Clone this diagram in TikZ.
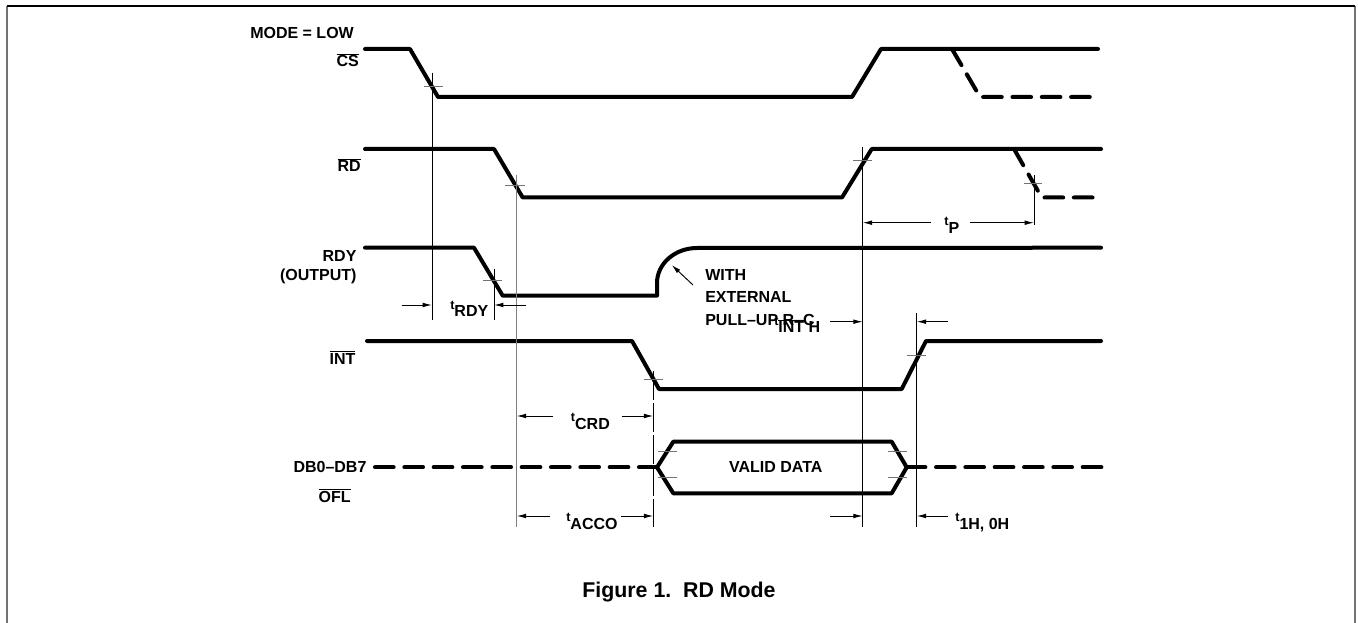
\documentclass[tikz,border=0pt]{standalone}
\usepackage{fontspec}
\setmainfont{Liberation Sans}
\usetikzlibrary{arrows.meta}
\newcommand{\ovl}[1]{$\overline{\mbox{#1}}$}
\newcommand{\tsub}[1]{\raisebox{5.5pt}{\fontsize{9.5}{9.5}\selectfont t}#1}

\begin{document}
\begin{tikzpicture}[x=0.75pt, y=-0.75pt,
    sig/.style={line width=3pt, line cap=round, line join=round},
    sigdash/.style={sig, dash pattern=on 14pt off 8pt},
    guide/.style={line width=0.7pt},
    grayguide/.style={line width=0.9pt, black!50},
    crossmark/.style={line width=0.7pt, black!55},
    dim/.style={line width=0.7pt, -{Latex[length=7pt, width=3.5pt]}},
    lbl/.style={font=\bfseries\fontsize{12}{14.25}\selectfont, inner sep=0pt}]

  \useasboundingbox (0,0) rectangle (1358,623);
  % frame
  \draw[line width=1.5pt, black!55] (7,6) -- (7,623);
  \draw[line width=1.5pt, black!55] (1355,6) -- (1355,623);
  \draw[line width=1.1pt] (7,6) -- (1355,6);

  % signal names
  \node[lbl, anchor=base west] (mode) at (250,39) {MODE = LOW};
  \node[lbl, anchor=base east] (cs) at (359,67) {\ovl{CS}};
  \node[lbl, anchor=base east] (rd) at (361,171.7) {\ovl{RD}};
  \node[lbl, anchor=north east, align=right] (rdy) at (356.7,250.7) {RDY\\(OUTPUT)};
  \node[lbl, anchor=base east] (int) at (355.7,364) {\ovl{INT}};
  \node[lbl, anchor=base east] (db) at (366.7,472) {DB0–DB7};
  \node[lbl, anchor=base east] (ofl) at (351,502.7) {\ovl{OFL}};

  % waveforms
  \draw[sig] (365,49) -- (410,49) -- (438,97) -- (852,97) -- (881,49) -- (1098,49);
  \draw[sigdash] (952,49) -- (980,97) -- (1096,97);
  \draw[sig] (365,149) -- (494,149) -- (522.7,197.5) -- (842,197.5) -- (871.7,149) -- (1101,149);
  \draw[sigdash] (1014,149) -- (1041.7,197.5) -- (1101,197.5);
  \draw[sig] (365,247.7) -- (474,247.7) -- (502.7,295.7) -- (657,295.7) -- (657,283)
    arc[start angle=180, end angle=270, x radius=40, y radius=35] -- (1101,247.7);
  \draw[sig] (367,341) -- (632,341) -- (659,389) -- (901.7,389) -- (926,341) -- (1101,341);
  \draw[sigdash] (375,467.3) -- (657,467.3);
  \draw[sig] (657,467.3) -- (673.3,441.7) -- (891.7,441.7) -- (906.7,467.3)
    -- (891.7,493.3) -- (673.3,493.3) -- cycle;
  \draw[sigdash] (906.7,467.3) -- (1101.7,467.3);
  \node[lbl] (valid) at (775.8,467.3) {VALID DATA};

  % reference lines
  \coordinate (gcs) at (432,73);
  \coordinate (grdf) at (516.7,175);
  \coordinate (grdy) at (494,269);
  \coordinate (gintf) at (653.3,371);
  \coordinate (grdr) at (862.7,147);
  \coordinate (grdp) at (1034,175);
  \coordinate (gintr) at (916.7,313);
  \draw[guide] (gcs) -- (gcs |- 0,320);
  \draw[grayguide] (grdf) -- (grdf |- 0,527);
  \draw[guide] (grdy) -- (grdy |- 0,320);
  \draw[guide, dash pattern=on 22pt off 2pt] (gintf) -- (gintf |- 0,527);
  \draw[guide] (grdr) -- (grdr |- 0,527);
  \draw[guide] (grdp) -- (grdp |- 0,225);
  \draw[guide] (gintr) -- (gintr |- 0,527);

  % crossing marks
  \draw[crossmark] (424,86.7) -- (443,86.7);
  \draw[crossmark] (505,185) -- (525,185);
  \draw[crossmark] (853,160.7) -- (872,160.7);
  \draw[crossmark] (1024,183) -- (1042,183);
  \draw[crossmark] (483,280) -- (502,280);
  \draw[crossmark] (644,379) -- (663,379);
  \draw[crossmark] (907,355.7) -- (926,355.7);
  \draw[crossmark] (658,451.7) -- (677,451.7);
  \draw[crossmark] (658,477.3) -- (677,477.3);
  \draw[crossmark] (888,451.7) -- (907,451.7);
  \draw[crossmark] (888,477.3) -- (907,477.3);

  % timing parameters
  \draw[dim] (401.7,305) -- (gcs |- 0,305);
  \draw[dim] (526,305) -- (grdy |- 0,305);
  \node[lbl, anchor=base west] (trdy) at (450,316.7) {\tsub{RDY}};

  \draw[dim] (931,222.7) -- (grdr |- 0,222.7);
  \draw[dim] (970,222.7) -- (grdp |- 0,222.7);
  \node[lbl, anchor=base west] (tp) at (944,233.3) {\tsub{P}};

  \draw[dim] (693,285) -- (671.7,265);
  \node[lbl, anchor=north west, align=left, font=\bfseries\fontsize{12}{16.9}\selectfont] (pullup) at (705,269) {WITH\\EXTERNAL\\PULL–UP R–C};

  \draw[dim] (830,321.7) -- (grdr |- 0,321.7);
  \draw[dim] (948,321.7) -- (gintr |- 0,321.7);
  \node[lbl, anchor=base west] (tinth) at (774,332.7) {\tsub{\ovl{INT} H}};

  \draw[dim] (553,416) -- (grdf |- 0,416);
  \draw[dim] (621.7,416) -- (gintf |- 0,416);
  \node[lbl, anchor=base west] (tcrd) at (570.7,429.3) {\tsub{CRD}};

  \draw[dim] (550,516) -- (grdf |- 0,516);
  \draw[dim] (621,516) -- (gintf |- 0,516);
  \node[lbl, anchor=base west] (tacco) at (566,529) {\tsub{ACCO}};

  \draw[dim] (830,516) -- (grdr |- 0,516);
  \draw[dim] (948,516) -- (gintr |- 0,516);
  \node[lbl, anchor=base west] (thold) at (955,529) {\tsub{1H, 0H}};

  \node[font=\bfseries\fontsize{16}{19}\selectfont, inner sep=0pt] (caption) at (679,592) {Figure 1.\ \ RD Mode};
\end{tikzpicture}
\end{document}
